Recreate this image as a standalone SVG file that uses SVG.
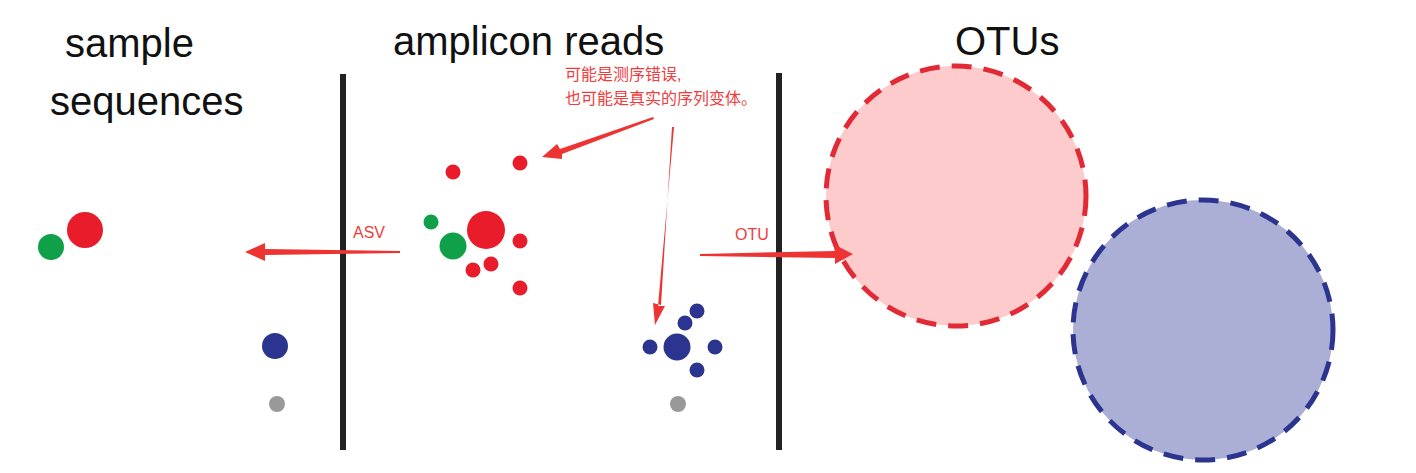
<svg xmlns="http://www.w3.org/2000/svg" width="1416" height="473" viewBox="0 0 1416 473">
<style>
.t{font-family:"Liberation Sans",Arial,sans-serif;font-size:40px;fill:#111}
.l{font-family:"Liberation Sans","Noto Sans CJK SC",sans-serif;font-size:16px;fill:#f03c3c}
.r{fill:#e81c2a}.g{fill:#11a04a}.b{fill:#2b3590}.y{fill:#999}
.ar{fill:#ee3333}
</style>
<rect width="1416" height="473" fill="#fff"/>
<g id="titles">
<text class="t" x="65" y="57">sample</text>
<text class="t" x="50" y="115">sequences</text>
<text class="t" x="393" y="55">amplicon reads</text>
<text class="t" x="955" y="55">OTUs</text>
</g>
<g id="dividers" fill="#222">
<rect x="340" y="74" width="6" height="376"/>
<rect x="776" y="73" width="6" height="377"/>
</g>
<g id="samples">
<circle class="r" cx="85" cy="230" r="18"/>
<circle class="g" cx="51" cy="247" r="13"/>
<circle class="b" cx="275" cy="346" r="13"/>
<circle class="y" cx="277" cy="404" r="8"/>
</g>
<g id="reads-red">
<circle class="r" cx="453" cy="172" r="7.5"/>
<circle class="r" cx="520" cy="163" r="7.5"/>
<circle class="g" cx="431" cy="222" r="7.5"/>
<circle class="r" cx="486" cy="230" r="19"/>
<circle class="g" cx="453" cy="246" r="13.5"/>
<circle class="r" cx="520" cy="241" r="7.5"/>
<circle class="r" cx="473" cy="270" r="7.5"/>
<circle class="r" cx="491" cy="264" r="7.5"/>
<circle class="r" cx="520" cy="288" r="7.5"/>
</g>
<g id="reads-blue">
<circle class="b" cx="677" cy="347" r="13.5"/>
<circle class="b" cx="650" cy="347" r="7.5"/>
<circle class="b" cx="715" cy="347" r="7.5"/>
<circle class="b" cx="685" cy="323" r="7.5"/>
<circle class="b" cx="697" cy="311" r="7.5"/>
<circle class="b" cx="697" cy="370" r="7.5"/>
<circle class="y" cx="678" cy="404" r="8"/>
</g>
<g id="otus" stroke-width="5" stroke-dasharray="20 12">
<circle cx="956" cy="196" r="130" fill="#fdcbcb" stroke="#e12a35"/>
<circle cx="1203" cy="330" r="130" fill="#abaed5" stroke="#2b3590"/>
</g>
<g id="connectors">
<polygon class="ar" points="400,251 265,249 265,243 245,252 265,261 265,255 400,253"/>
<polygon class="ar" points="700,254 835,251 833,244 853,254 835,264 835,258 700,256"/>
<polygon class="ar" points="653,117 560,149 557,144 542,157 562,159 562,154 654,119"/>
<polygon class="ar" points="672,127 661,305 653,303 655,325 665,306 658,306 674,127"/>
</g>
<g id="labels">
<text class="l" x="565" y="80">可能是测序错误,</text>
<text class="l" x="565" y="104">也可能是真实的序列变体。</text>
<text class="l" x="353" y="238">ASV</text>
<text class="l" x="735" y="240">OTU</text>
</g>
</svg>
